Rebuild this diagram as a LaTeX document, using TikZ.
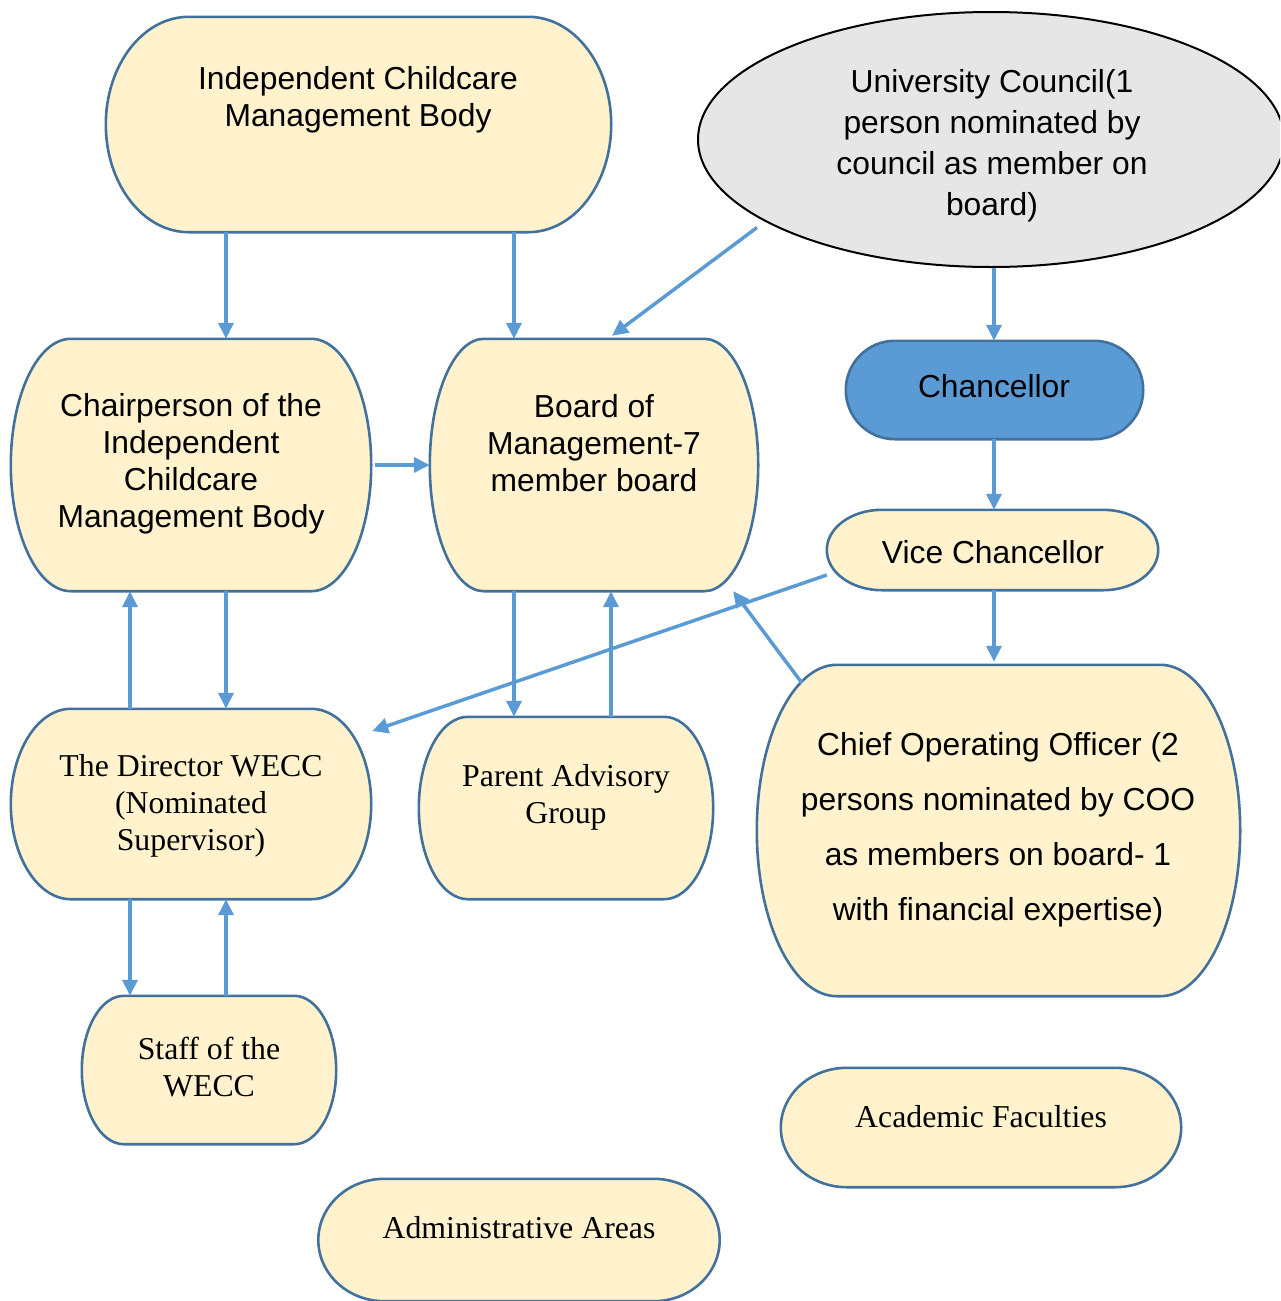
\documentclass[tikz,border=0pt]{standalone}
\usepackage{fontspec}
\setmainfont{Liberation Serif}
\newfontfamily\arialf{Liberation Sans}
\usetikzlibrary{arrows.meta,calc,shapes.geometric,backgrounds}
\definecolor{boxfill}{HTML}{FFF2CC}
\definecolor{boxline}{HTML}{41719C}
\definecolor{arrowc}{HTML}{5B9BD5}
\definecolor{councilfill}{HTML}{E7E6E6}
% terminator outline round an (undrawn) rectangle node: #1 node, #2 x radius, #3 style
\newcommand\termshape[3]{%
  \begin{scope}[on background layer]
  \draw[#3] ([xshift=#2]#1.north west) -- ([xshift=-#2]#1.north east)
    .. controls ([xshift=-0.4477*#2]#1.north east) and ($(#1.north east)!0.4477!(#1.east)$) .. (#1.east)
    .. controls ($(#1.south east)!0.4477!(#1.east)$) and ([xshift=-0.4477*#2]#1.south east) .. ([xshift=-#2]#1.south east)
    -- ([xshift=#2]#1.south west)
    .. controls ([xshift=0.4477*#2]#1.south west) and ($(#1.south west)!0.4477!(#1.west)$) .. (#1.west)
    .. controls ($(#1.north west)!0.4477!(#1.west)$) and ([xshift=0.4477*#2]#1.north west) .. cycle;
  \end{scope}}
\tikzset{
  boxnode/.style={rectangle, inner sep=0pt},
  termfill/.style={draw=boxline, fill=boxfill, line width=2.6pt},
  chancfill/.style={draw=boxline, fill=arrowc, line width=2.6pt},
  sanslbl/.style={align=center, inner sep=0pt, font=\arialf\fontsize{31.8pt}{37pt}\selectfont},
  seriflbl/.style={align=center, inner sep=0pt, font=\fontsize{31.8pt}{37pt}\selectfont},
  arr/.style={draw=arrowc, line width=3.5pt, -{Triangle[length=16pt,width=15pt]}},
}
\begin{document}
\begin{tikzpicture}[x=1pt,y=-1pt]
\useasboundingbox (0,0) rectangle (1280,1301);
\begin{scope}
\clip (0,0) rectangle (1280,1301);

% boxes
\node[boxnode, minimum width=505pt, minimum height=215pt] (icmb) at (358.5,124.5) {};
\node[boxnode, minimum width=297pt, minimum height=98pt] (chanc) at (994.5,390) {};
\node[boxnode, minimum width=331pt, minimum height=80pt] (vc) at (992.5,550) {};
\node[boxnode, minimum width=483pt, minimum height=331pt] (coo) at (998.5,830.5) {};
\node[boxnode, minimum width=360pt, minimum height=252pt] (chair) at (191,465) {};
\node[boxnode, minimum width=328pt, minimum height=252pt] (board) at (594,465) {};
\node[boxnode, minimum width=360pt, minimum height=190pt] (dir) at (191,804) {};
\node[boxnode, minimum width=294pt, minimum height=182pt] (pag) at (566,808) {};
\node[boxnode, minimum width=254pt, minimum height=148pt] (staff) at (209,1070) {};
\node[boxnode, minimum width=400pt, minimum height=119pt] (acad) at (981,1127.5) {};
\node[boxnode, minimum width=401pt, minimum height=122pt] (admin) at (519,1240) {};

\termshape{icmb}{83pt}{termfill}
\termshape{chanc}{49pt}{chancfill}
\termshape{vc}{55pt}{termfill}
\termshape{coo}{80pt}{termfill}
\termshape{chair}{60pt}{termfill}
\termshape{board}{54pt}{termfill}
\termshape{dir}{60pt}{termfill}
\termshape{pag}{49pt}{termfill}
\termshape{staff}{42pt}{termfill}
\termshape{acad}{66pt}{termfill}
\termshape{admin}{66pt}{termfill}

% council ellipse
\node[ellipse, draw=black, fill=councilfill, line width=2pt, inner sep=0pt,
      minimum width=586pt, minimum height=255pt] (uc) at (991,139.5) {};

% labels
\node[sanslbl, font=\arialf\fontsize{31.8pt}{41pt}\selectfont] (uc-t) at (992,146)
  {University Council(1\\person nominated by\\council as member on\\board)};
\node[sanslbl] (icmb-t) at (358,100) {Independent Childcare\\Management Body};
\node[sanslbl] (chanc-t) at (994,386) {Chancellor};
\node[sanslbl] (vc-t) at (993,552) {Vice Chancellor};
\node[sanslbl, font=\arialf\fontsize{31.8pt}{55pt}\selectfont] (coo-t) at (998,830)
  {Chief Operating Officer (2\\persons nominated by COO\\as members on board- 1\\with financial expertise)};
\node[sanslbl] (chair-t) at (191,464) {Chairperson of the\\Independent\\Childcare\\Management Body};
\node[sanslbl] (board-t) at (594,443) {Board of\\Management-7\\member board};
\node[seriflbl] (dir-t) at (191,806) {The Director WECC\\(Nominated\\Supervisor)};
\node[seriflbl] (pag-t) at (566,797) {Parent Advisory\\Group};
\node[seriflbl] (staff-t) at (209,1067) {Staff of the\\WECC};
\node[seriflbl] (acad-t) at (981,1117) {Academic Faculties};
\node[seriflbl] (admin-t) at (519,1228) {Administrative Areas};

% x positions of the vertical connectors
\coordinate (xa) at (226,0);
\coordinate (xb) at (514,0);
\coordinate (xc) at (611,0);
\coordinate (xd) at (130,0);
\coordinate (xe) at (994,0);

% connectors
\draw[arr] (icmb.south -| xa) -- (chair.north -| xa);
\draw[arr] (icmb.south -| xb) -- (board.north -| xb);
\draw[arr] ([shift={(-234,88)}]uc.center) -- ([shift={(18,-3)}]board.north);
\draw[arr] (uc.south -| xe) -- (chanc.north -| xe);
\draw[arr] ([xshift=4pt]chair.east) -- (board.west);
\draw[arr] (chanc.south -| xe) -- (vc.north -| xe);
\draw[arr] (vc.south -| xe) -- ([shift={(0,-3)}]coo.north -| xe);
\draw[arr] ([shift={(0,25)}]vc.west) -- ([shift={(1,-73)}]dir.east);
\draw[arr] ([shift={(45,18)}]coo.north west) -- ([shift={(-25,0)}]board.south east);
\draw[arr] (board.south -| xb) -- (pag.north -| xb);
\draw[arr] (pag.north -| xc) -- (board.south -| xc);
\draw[arr] (chair.south -| xa) -- (dir.north -| xa);
\draw[arr] (dir.north -| xd) -- (chair.south -| xd);
\draw[arr] (dir.south -| xd) -- (staff.north -| xd);
\draw[arr] (staff.north -| xa) -- (dir.south -| xa);
\end{scope}
\end{tikzpicture}
\end{document}
